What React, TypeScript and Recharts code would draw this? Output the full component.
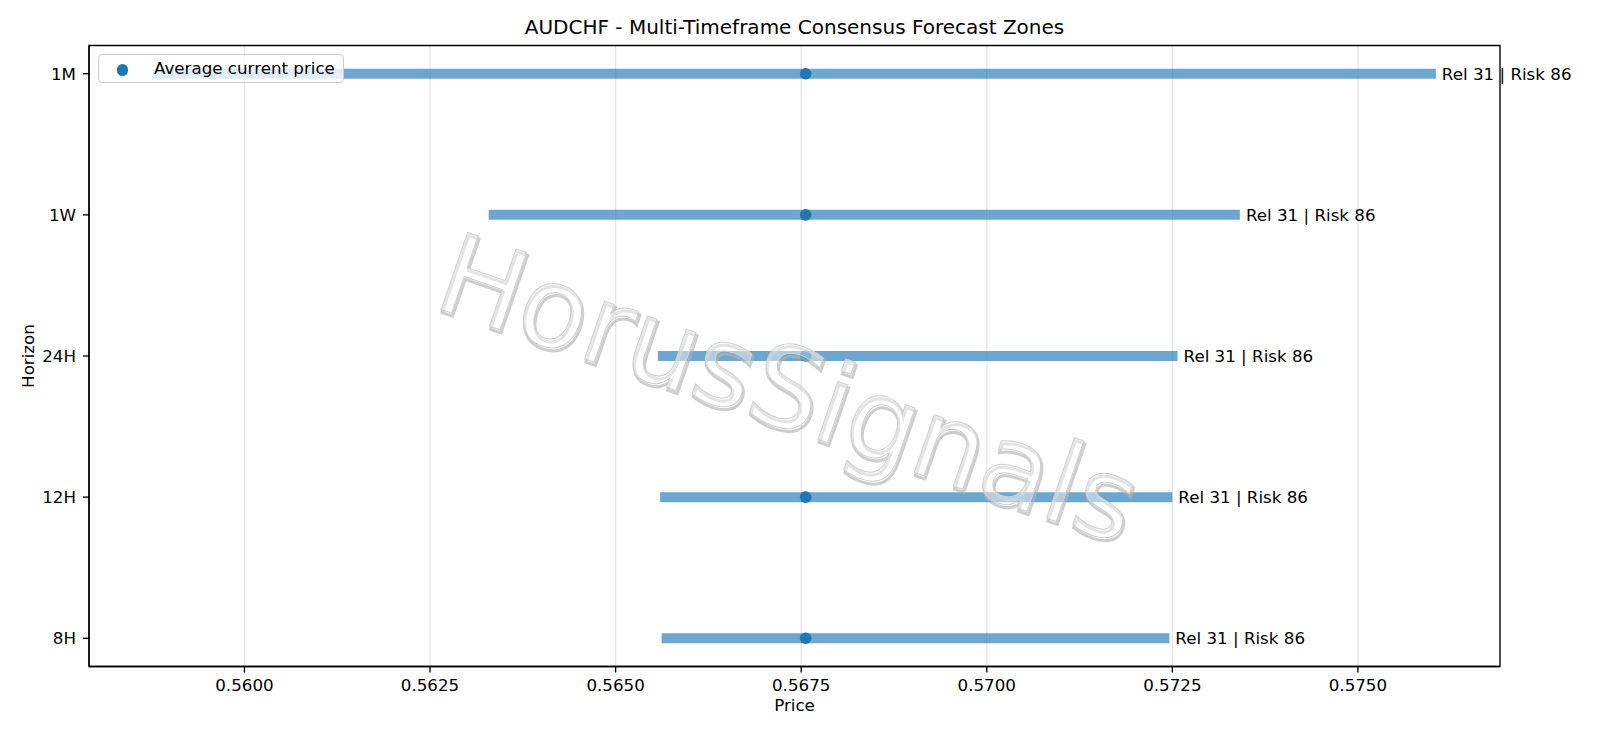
import {
  ComposedChart,
  CartesianGrid,
  ReferenceArea,
  ReferenceLine,
  Scatter,
  XAxis,
  YAxis,
} from "recharts";

const horizons = ["1M", "1W", "24H", "12H", "8H"];
const zoneLow = [0.55877, 0.56329, 0.56557, 0.5656, 0.56562];
const zoneHigh = [0.57605, 0.57341, 0.57257, 0.5725, 0.57246];
const currentPrice = [0.56756, 0.56756, 0.56756, 0.56756, 0.56756];
const relScore = [31, 31, 31, 31, 31];
const riskScore = [86, 86, 86, 86, 86];
const priceTicks = [0.56, 0.5625, 0.565, 0.5675, 0.57, 0.5725, 0.575];
const rowTicks = [0, 1, 2, 3, 4];

const W = 1600;
const H = 738;
const FONT = "DejaVu Sans, sans-serif";
const blue = "#1f77b4";
const xDomain = [0.557906, 0.576914];
const yDomain = [-0.2, 4.2];

const dots = horizons.map((h, i) => ({ x: currentPrice[i], y: i, h }));
const ends = horizons.map((h, i) => ({
  x: zoneHigh[i],
  y: i,
  text: `Rel ${relScore[i]} | Risk ${riskScore[i]}`,
}));

const tickStyle = { fontSize: 16.7, fill: "#000", fontFamily: FONT };

function Dot(props: any) {
  return <circle cx={props.cx} cy={props.cy} r={5.8} fill={blue} />;
}

function EndLabel(props: any) {
  return (
    <text x={props.cx + 6} y={props.cy} dy="0.36em" fontSize={16.7} fontFamily={FONT} fill="#000">
      {props.payload.text}
    </text>
  );
}

// watermark drawn over the plot, like the matplotlib text with a shadow path effect
function Watermark() {
  const cx = 776;
  const cy = 425;
  const common = {
    x: cx,
    y: cy,
    textAnchor: "middle" as const,
    fontSize: 112,
    fontFamily: FONT,
  };
  return (
    <g transform={`rotate(19, ${cx}, ${cy})`}>
      <text {...common} dx={2} dy={2.5} fill="none" stroke="#b4b4b4" strokeOpacity={0.65} strokeWidth={3}>
        HorusSignals
      </text>
      <text {...common} fill="#fff" fillOpacity={0.45} stroke="#d0d0d0" strokeWidth={1}>
        HorusSignals
      </text>
    </g>
  );
}

export default function App() {
  return (
    <div style={{ position: "absolute", left: 0, top: 0, width: W, height: H, background: "#fff", fontFamily: FONT }}>
      <ComposedChart
        width={W}
        height={H}
        margin={{ top: 45.5, right: 100, left: 0, bottom: 31.5 }}
      >
        <CartesianGrid horizontal={false} stroke="#b0b0b0" strokeOpacity={0.3} strokeWidth={1.33} />
        <XAxis
          type="number"
          dataKey="x"
          domain={xDomain}
          ticks={priceTicks}
          tickFormatter={(v: number) => v.toFixed(4)}
          tick={tickStyle}
          tickSize={6}
          tickMargin={7}
          height={40}
          axisLine={{ stroke: "#000", strokeWidth: 1.33 }}
          tickLine={{ stroke: "#000", strokeWidth: 1.33 }}
        />
        <YAxis
          type="number"
          dataKey="y"
          domain={yDomain}
          reversed
          ticks={rowTicks}
          tickFormatter={(v: number) => horizons[v]}
          tick={tickStyle}
          tickSize={6}
          tickMargin={7}
          width={89}
          axisLine={{ stroke: "#000", strokeWidth: 1.33 }}
          tickLine={{ stroke: "#000", strokeWidth: 1.33 }}
        />
        {horizons.map((h, i) => (
          <ReferenceLine
            key={h}
            segment={[
              { x: zoneLow[i], y: i },
              { x: zoneHigh[i], y: i },
            ]}
            stroke={blue}
            strokeOpacity={0.65}
            strokeWidth={10}
          />
        ))}
        <Scatter data={dots} shape={Dot} isAnimationActive={false} />
        <Scatter data={ends} shape={EndLabel} isAnimationActive={false} />
        <ReferenceArea
          x1={xDomain[0]}
          x2={xDomain[1]}
          y1={yDomain[0]}
          y2={yDomain[1]}
          fill="none"
          stroke="#000"
          strokeWidth={1.33}
        />
      </ComposedChart>
      <svg width={W} height={H} style={{ position: "absolute", left: 0, top: 0, pointerEvents: "none" }}>
        <Watermark />
        <text x={794.5} y={34} textAnchor="middle" fontSize={20} fontFamily={FONT} fill="#000">
          AUDCHF - Multi-Timeframe Consensus Forecast Zones
        </text>
        <text x={794.5} y={711} textAnchor="middle" fontSize={16.7} fontFamily={FONT} fill="#000">
          Price
        </text>
        <text
          x={34}
          y={356}
          textAnchor="middle"
          fontSize={16.7}
          fontFamily={FONT}
          fill="#000"
          transform="rotate(-90, 34, 356)"
        >
          Horizon
        </text>
      </svg>
      <div
        style={{
          position: "absolute",
          left: 97.6,
          top: 54.3,
          width: 246.8,
          height: 28.4,
          boxSizing: "border-box",
          border: "1.3px solid #cccccc",
          borderRadius: 4,
          background: "rgba(255,255,255,0.8)",
          fontSize: 16.7,
          color: "#000",
        }}
      >
        <span
          style={{
            position: "absolute",
            left: 24.1 - 5.8,
            top: 15 - 5.8,
            width: 11.6,
            height: 11.6,
            borderRadius: "50%",
            background: blue,
          }}
        />
        <span style={{ position: "absolute", left: 55.4, top: 2, lineHeight: "22px" }}>Average current price</span>
      </div>
    </div>
  );
}
